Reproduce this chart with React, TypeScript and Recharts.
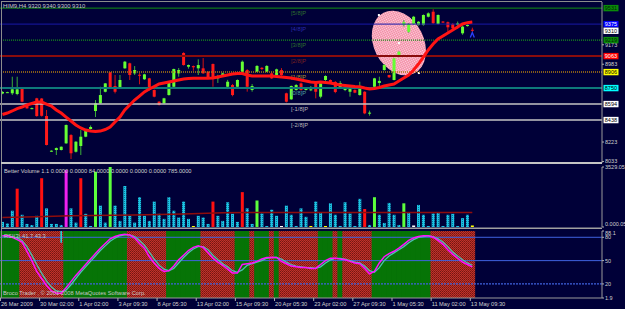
import React from 'react';
import { ComposedChart, Bar, Line, XAxis, YAxis, ReferenceLine, ReferenceDot, Cell } from 'recharts';

const W = 625;
const SLOTS = 123;
const FONT = '"Liberation Sans", Arial, sans-serif';
const BG = '#000038';

// HIM9 H4 candles (open / high / low / close)
const openP = [
  8697, 8708, 8699, 8692, 8748, 8591, 8548, 8650, 8648, 8477,
  8132, 8145, 8145, 8210, 8291, 8128, 8184, 8275, 8350, 8526,
  8601, 8714, 8904, 8770, 8748, 8943, 8992, 8894, 8880, 8836,
  8845, 8731, 8617, 8601, 8682, 8763, 8894, 9093, 8959, 8965,
  8943, 8943, 8910, 8985, 8845, 8868, 8763, 8780, 8763, 8910,
  8926, 8731, 8910, 8948, 8910, 8894, 8878, 8926, 8699, 8640,
  8731, 8796, 8731, 8728, 8796, 8666, 8829, 8829, 8810, 8760,
  8731, 8714, 8731, 8682, 8714, 8500, 8763, 8800, 8926, 8878,
  8829, 9056, 9366, 9300, 9376, 9366, 9366, 9447, 9496, 9376,
  9400, 9393, 9376, 9366, 9285, 9356, 9320,
];
const highP = [
  8720, 8714, 8861, 8861, 8755, 8596, 8560, 8655, 8652, 8536,
  8142, 8170, 8180, 8395, 8300, 8232, 8340, 8350, 8385, 8633,
  8763, 8800, 8908, 8878, 8878, 9015, 8998, 8965, 8900, 8890,
  8850, 8736, 8622, 8655, 8818, 8940, 8946, 9100, 8980, 8970,
  9031, 9043, 8915, 8990, 8880, 8900, 8830, 8790, 8835, 9020,
  8935, 8790, 8975, 8955, 8975, 8910, 8940, 8945, 8705, 8775,
  8790, 8805, 8755, 8770, 8800, 8805, 8875, 8835, 8818, 8820,
  8765, 8765, 8738, 8812, 8720, 8530, 8850, 8861, 8985, 8880,
  9045, 9110, 9415, 9385, 9455, 9405, 9470, 9490, 9520, 9470,
  9405, 9400, 9385, 9400, 9360, 9375, 9340,
];
const lowP = [
  8690, 8704, 8682, 8680, 8612, 8548, 8544, 8470, 8472, 8190,
  8128, 8096, 8140, 8205, 8057, 8120, 8096, 8270, 8345, 8467,
  8597, 8708, 8748, 8698, 8744, 8938, 8829, 8878, 8787, 8830,
  8726, 8660, 8580, 8596, 8676, 8758, 8861, 8970, 8940, 8920,
  8878, 8890, 8840, 8763, 8800, 8860, 8740, 8670, 8760, 8905,
  8715, 8715, 8905, 8925, 8905, 8840, 8870, 8870, 8610, 8635,
  8725, 8725, 8726, 8720, 8650, 8650, 8820, 8800, 8700, 8755,
  8720, 8666, 8700, 8676, 8495, 8480, 8755, 8748, 8920, 8850,
  8825, 9050, 9350, 9290, 9370, 9360, 9360, 9440, 9378, 9370,
  9385, 9300, 9320, 9330, 9270, 9350, 9300,
];
const closeP = [
  8712, 8710, 8738, 8738, 8617, 8552, 8554, 8477, 8479, 8194,
  8138, 8164, 8177, 8389, 8113, 8226, 8275, 8340, 8370, 8601,
  8682, 8796, 8754, 8714, 8829, 9008, 8878, 8926, 8874, 8884,
  8731, 8666, 8585, 8650, 8812, 8936, 8926, 8975, 8975, 8953,
  8975, 8894, 8845, 8845, 8861, 8894, 8812, 8682, 8829, 9008,
  8763, 8770, 8966, 8936, 8966, 8845, 8933, 8878, 8617, 8770,
  8780, 8731, 8748, 8738, 8714, 8796, 8868, 8810, 8712, 8800,
  8757, 8757, 8705, 8770, 8503, 8510, 8845, 8820, 8975, 8855,
  9040, 9105, 9395, 9376, 9447, 9398, 9464, 9480, 9383, 9464,
  9390, 9344, 9334, 9383, 9350, 9366, 9310,
];
// red moving average on price
const maP = [
  8492, 8506, 8526, 8550, 8565, 8585, 8599, 8614, 8614, 8594,
  8575, 8536, 8506, 8467, 8428, 8389, 8360, 8340, 8330, 8326,
  8330, 8345, 8370, 8418, 8467, 8536, 8585, 8633, 8672, 8712,
  8741, 8765, 8790, 8800, 8809, 8819, 8829, 8839, 8843, 8845,
  8845, 8845, 8845, 8848, 8858, 8868, 8878, 8887, 8892, 8892,
  8878, 8868, 8868, 8868, 8868, 8868, 8863, 8858, 8853, 8848,
  8839, 8829, 8819, 8809, 8804, 8809, 8804, 8800, 8790, 8780,
  8775, 8770, 8765, 8763, 8751, 8741, 8746, 8756, 8770, 8780,
  8790, 8819, 8848, 8878, 8926, 8985, 9053, 9122, 9181, 9229,
  9259, 9288, 9317, 9347, 9376, 9389, 9395,
];

// Better Volume 1.1
const volume = [
  300, 200, 957, 2254, 718, 180, 120, 658, 2870, 1094,
  180, 180, 120, 3349, 1094, 257, 2870, 777, 60, 3250,
  1256, 257, 3529, 1256, 359, 2410, 658, 257, 1752, 658,
  359, 1495, 777, 478, 1752, 957, 556, 1495, 478, 60,
  658, 556, 180, 1495, 658, 359, 1453, 777, 300, 2051,
  1094, 180, 1555, 795, 60, 1017, 658, 60, 1256, 718,
  60, 1094, 598, 60, 1495, 819, 60, 1393, 718, 60,
  1453, 795, 60, 1656, 1058, 120, 1752, 718, 239, 1417,
  718, 120, 1393, 855, 90, 1298, 718, 60, 795, 855,
  60, 718, 777, 60, 520, 718, 90,
];
const volKind = [
  'c', 'c', 'c', 'r', 'c', 'c', 'c', 'c', 'r', 'c',
  'c', 'c', 'c', 'm', 'c', 'c', 'r', 'c', 'c', 'g',
  'c', 'c', 'g', 'c', 'c', 'c', 'c', 'c', 'c', 'c',
  'c', 'c', 'c', 'c', 'c', 'c', 'c', 'c', 'c', 'y',
  'c', 'c', 'c', 'r', 'c', 'c', 'c', 'c', 'c', 'r',
  'c', 'c', 'g', 'c', 'c', 'c', 'c', 'w', 'c', 'c',
  'c', 'c', 'c', 'y', 'c', 'c', 'y', 'c', 'c', 'c',
  'c', 'c', 'c', 'c', 'r', 'c', 'g', 'c', 'c', 'c',
  'c', 'c', 'g', 'c', 'w', 'c', 'c', 'c', 'c', 'c',
  'c', 'c', 'c', 'c', 'c', 'c', 'y',
];
const volMaIdx = [0, 7, 14, 27, 37, 45, 50, 96];
const volMaVal = [560, 600, 660, 700, 760, 840, 855, 855];

// RSI(3) and its signal
const rsi = [
  82, 82, 80, 77, 74, 62, 50, 36, 27, 18,
  11, 8, 8, 15, 23, 31, 38, 45, 52, 59,
  66, 72, 78, 81, 83, 84, 83, 79, 72, 66,
  55, 47, 40, 36, 37, 43, 51, 57, 63, 67,
  69, 67, 60, 53, 48, 44, 39, 34, 34, 45,
  46, 47, 49, 52, 54, 54, 54, 49, 46, 43,
  42, 41, 41, 40, 40, 45, 50, 53, 53, 52,
  51, 49, 47, 46, 40, 33, 36, 47, 55, 59,
  62, 66, 71, 76, 79, 81, 82, 82, 80, 76,
  71, 64, 58, 53, 48, 45, 42,
];
const rsiSignal = [
  82, 82, 81, 79, 76, 68, 57, 45, 34, 24,
  16, 11, 10, 12, 19, 27, 35, 42, 49, 56,
  63, 69, 75, 79, 82, 83, 83, 81, 76, 70,
  61, 52, 44, 39, 37, 40, 47, 54, 60, 65,
  68, 68, 64, 57, 51, 46, 42, 37, 35, 38,
  44, 46, 48, 50, 53, 54, 54, 52, 48, 45,
  43, 42, 41, 41, 40, 42, 47, 51, 53, 53,
  52, 50, 48, 47, 43, 37, 35, 41, 50, 56,
  60, 64, 68, 73, 77, 80, 81, 82, 81, 78,
  74, 68, 61, 56, 51, 47, 44,
];
const rsiZone = [
  'g', 'g', 'g', 'g', 'r', 'r', 'r', 'r', 'r', 'r',
  'r', 'r', 'r', 'g', 'g', 'g', 'g', 'g', 'g', 'g',
  'g', 'g', 'g', 'g', 'g', 'g', 'r', 'r', 'r', 'r',
  'r', 'r', 'r', 'r', 'g', 'g', 'g', 'g', 'g', 'g',
  'g', 'r', 'r', 'r', 'r', 'r', 'r', 'r', 'g', 'g',
  'g', 'r', 'g', 'g', 'g', 'r', 'g', 'r', 'r', 'r',
  'r', 'r', 'r', 'r', 'r', 'g', 'g', 'g', 'r', 'g',
  'r', 'r', 'r', 'r', 'r', 'r', 'g', 'g', 'g', 'g',
  'g', 'g', 'g', 'g', 'g', 'g', 'g', 'g', 'r', 'r',
  'r', 'r', 'r', 'r', 'r', 'r', 'r',
];

// Murrey math levels
const murreyLevels = [9531.25, 9375, 9218.75, 9062.5, 8906.25, 8750, 8593.75, 8437.5];
const murreyNames = ['[5/8]P', '[4/8]P', '[3/8]P', '[2/8]P', '[1/8]P', '[0/8]P', '[-1/8]P', '[-2/8]P'];

// axis ticks and labels
const priceTicks = [8033, 8223, 8983, 9173];
const boxLevels = [9531.25, 9375, 9218.75, 9062.5, 8906.25, 8750, 8593.75, 8437.5, 9310];
const boxLabels = ['9531', '9375', '9219', '9063', '8906', '8750', '8594', '8438', '9310'];
const volTicks = [0, 3529.05];
const volTickLabels = ['0.000.05', '3529.05'];
const rsiTicks = [88.1, 80, 50, 20, 1.9];
const rsiTickLabels = ['88.1', '80', '50', '20', '1.9'];
const dateTickIdx = [0, 8, 16, 24, 32, 40, 48, 56, 64, 72, 80, 88, 96];
const dateLabels = [
  '26 Mar 2009', '30 Mar 02:00', '1 Apr 02:00', '3 Apr 09:30', '8 Apr 05:30', '13 Apr 02:00',
  '15 Apr 09:30', '20 Apr 05:30', '23 Apr 02:00', '27 Apr 09:30', '1 May 05:30', '11 May 02:00', '13 May 09:30',
];

const murreyStyle = [
  { stroke: '#129012', width: 1, dash: undefined, text: '#2e6e2e' },
  { stroke: '#1818a8', width: 1, dash: undefined, text: '#2a2aa8' },
  { stroke: '#189018', width: 1.2, dash: '1 1', text: '#2e6e2e' },
  { stroke: '#8a0c0c', width: 2, dash: undefined, text: '#7a2020' },
  { stroke: '#b07a10', width: 1.5, dash: '1 1', text: '#a89030' },
  { stroke: '#0e7a7a', width: 2, dash: undefined, text: '#50a0a0' },
  { stroke: '#c4c4c4', width: 1.6, dash: undefined, text: '#b8b8b8' },
  { stroke: '#c4c4c4', width: 1.6, dash: undefined, text: '#b8b8b8' },
];
const boxStyle = [
  { bg: '#0a8a0a', fg: '#002800' },
  { bg: '#0000ff', fg: '#ffffff' },
  { bg: '#0a8a0a', fg: '#002800' },
  { bg: '#ff0000', fg: '#ffffff' },
  { bg: '#ffff00', fg: '#000000' },
  { bg: '#00ffff', fg: '#000000' },
  { bg: '#ffffff', fg: '#000000' },
  { bg: '#ffffff', fg: '#000000' },
  { bg: '#ffffff', fg: '#000000' },
];
const volColor: Record<string, string> = {
  c: 'url(#cyanHatch)', r: '#ff1010', m: '#f020f0', g: '#5cff3c', y: '#ffff00', w: '#ffffff',
};

const rows = Array.from({ length: SLOTS }, (_, i) => {
  if (i >= openP.length) return { idx: i };
  const k = volMaIdx.indexOf(i);
  return {
    idx: i,
    o: openP[i], h: highP[i], l: lowP[i], c: closeP[i],
    hl: [lowP[i], highP[i]],
    ma: maP[i],
    vol: volume[i],
    kind: volKind[i],
    volMa: k >= 0 ? volMaVal[k] : null,
    rsi: rsi[i],
    sig: rsiSignal[i],
    band: [1.9, 88.1],
    zone: rsiZone[i],
  };
});

function Candle(p: any) {
  const { x, y, width, height, payload } = p;
  if (!payload || payload.o == null || height == null || isNaN(y)) return null;
  const top = Math.min(y, y + height);
  const hgt = Math.abs(height);
  const k = payload.h === payload.l ? 0 : hgt / (payload.h - payload.l);
  const yO = top + (payload.h - payload.o) * k;
  const yC = top + (payload.h - payload.c) * k;
  const up = payload.c >= payload.o;
  const cx = x + width / 2;
  return (
    <g>
      <line x1={cx} x2={cx} y1={top} y2={top + hgt} stroke={up ? '#3aae3a' : '#d01212'} strokeWidth={1} />
      <rect x={x} y={Math.min(yO, yC)} width={width} height={Math.max(1, Math.abs(yC - yO))} fill={up ? '#66ff33' : '#ff1a1a'} />
    </g>
  );
}

function Band(p: any) {
  const { x, y, width, height, payload } = p;
  if (!payload || !payload.zone) return null;
  return (
    <rect x={x - 0.3} y={Math.min(y, y + height)} width={width + 0.6} height={Math.abs(height)}
      fill={payload.zone === 'r' ? 'url(#redHatch)' : '#067406'} />
  );
}

function Blob(p: any) {
  const { cx, cy } = p;
  if (cx == null) return null;
  return (
    <g>
      <ellipse cx={cx} cy={cy} rx={25} ry={34} transform={`rotate(-27 ${cx} ${cy})`} fill="url(#pinkHatch)" />
      <rect x={cx - 21} y={cy - 29} width={2} height={2} fill="#fff" />
      <rect x={cx - 1} y={cy - 1} width={2} height={2} fill="#fff" />
      <rect x={cx + 19} y={cy + 29} width={2} height={2} fill="#fff" />
    </g>
  );
}

function Arrow(p: any) {
  const { cx, cy } = p;
  if (cx == null) return null;
  return <path d={`M${cx - 2},${cy + 2.5} L${cx},${cy - 2.5} L${cx + 2},${cy + 2.5}`} stroke="#2a40ff" strokeWidth={1.3} fill="none" />;
}

function MurreyLabel(p: any) {
  const { viewBox, text, color } = p;
  if (!viewBox) return null;
  return (
    <text x={viewBox.x + 291} y={viewBox.y + 6.5} fontSize={5.8} fontFamily={FONT} fill={color}>{text}</text>
  );
}

function PriceTick(p: any) {
  const { x, y, payload } = p;
  const b = boxLevels.indexOf(payload.value);
  if (b >= 0) {
    return (
      <g>
        <rect x={x + 1.5} y={y - 3.2} width={15} height={6.4} fill={boxStyle[b].bg} />
        <text x={x + 2.8} y={y + 2.1} fontSize={5.5} fontFamily={FONT} fill={boxStyle[b].fg}>{boxLabels[b]}</text>
      </g>
    );
  }
  return (
    <g>
      <line x1={x} x2={x + 2} y1={y} y2={y} stroke="#b0b0b0" />
      <text x={x + 3} y={y + 2} fontSize={5.5} fontFamily={FONT} fill="#d0d0d0">{payload.value}</text>
    </g>
  );
}

function makePlainTick(ticks: number[], labels: string[], lift: number) {
  return function PlainTick(p: any) {
    const { x, y, payload } = p;
    const i = ticks.indexOf(payload.value);
    const dy = i === 0 ? -lift : 0;
    return (
      <g>
        <line x1={x} x2={x + 2} y1={y} y2={y} stroke="#b0b0b0" />
        <text x={x + 3} y={y + 2 + dy} fontSize={5.5} fontFamily={FONT} fill="#d0d0d0">{i >= 0 ? labels[i] : ''}</text>
      </g>
    );
  };
}
const VolTick = makePlainTick(volTicks, volTickLabels, 3);
const RsiTick = makePlainTick(rsiTicks, rsiTickLabels, -1.5);

function DateTick(p: any) {
  const { x, y, payload } = p;
  const i = dateTickIdx.indexOf(payload.value);
  return (
    <g>
      <line x1={x - 2} x2={x - 2} y1={y} y2={y + 3} stroke="#b0b0b0" />
      <text x={x - 1.5} y={y + 8} fontSize={5.7} fontFamily={FONT} fill="#d0d0d0">{i >= 0 ? dateLabels[i] : ''}</text>
    </g>
  );
}

const panel = (top: number): React.CSSProperties => ({ position: 'absolute', left: 0, top });

export default function App() {
  return (
    <div style={{ position: 'absolute', left: 0, top: 0, width: W, height: 309, background: BG, overflow: 'hidden' }}>
      <svg width={0} height={0} style={{ position: 'absolute' }}>
        <defs>
          <pattern id="cyanHatch" width={2} height={2} patternUnits="userSpaceOnUse">
            <rect width={2} height={2} fill="#1cc4e6" />
            <rect width={1} height={1} fill="#0a7896" />
          </pattern>
          <pattern id="redHatch" width={2} height={2} patternUnits="userSpaceOnUse">
            <rect width={2} height={2} fill="#c2302a" />
            <rect width={1} height={1} fill="#701812" />
            <rect x={1} y={1} width={1} height={1} fill="#8a2018" />
          </pattern>
          <pattern id="pinkHatch" width={2} height={2} patternUnits="userSpaceOnUse">
            <rect width={2} height={2} fill="#f7a0b6" />
            <rect width={1} height={1} fill="#ffd6e0" />
            <rect x={1} y={1} width={1} height={1} fill="#ee88a2" />
          </pattern>
        </defs>
      </svg>

      {/* price panel */}
      <div style={panel(0)}>
        <ComposedChart width={W} height={165} data={rows} margin={{ top: 2, right: 0, bottom: 2, left: 0 }}>
          <XAxis dataKey="idx" hide />
          <YAxis orientation="right" type="number" domain={[8018, 9591]} allowDataOverflow width={23}
            ticks={[...priceTicks, ...boxLevels]} interval={0} tick={<PriceTick />} tickLine={false}
            tickSize={0} tickMargin={0} axisLine={{ stroke: '#9a9a9a' }} />
          <ReferenceDot x={81} y={9190} r={0} zIndex={150} shape={(p: any) => <Blob {...p} />} />
          {murreyLevels.map((v, i) => (
            <ReferenceLine key={v} y={v} stroke={murreyStyle[i].stroke} strokeWidth={murreyStyle[i].width}
              strokeDasharray={murreyStyle[i].dash}
              label={<MurreyLabel text={murreyNames[i]} color={murreyStyle[i].text} />} />
          ))}
          <Bar dataKey="hl" barSize={3} shape={(p: any) => <Candle {...p} />} isAnimationActive={false} />
          <Line dataKey="ma" stroke="#ff1414" strokeWidth={3} dot={false} isAnimationActive={false} />
          <ReferenceDot x={96} y={9268} r={0} shape={(p: any) => <Arrow {...p} />} />
        </ComposedChart>
      </div>

      {/* volume panel */}
      <div style={panel(163)}>
        <ComposedChart width={W} height={66} data={rows} margin={{ top: 4, right: 0, bottom: 2, left: 0 }}>
          <XAxis dataKey="idx" hide />
          <YAxis orientation="right" type="number" domain={[0, 3529.05]} allowDataOverflow width={23}
            ticks={volTicks} interval={0} tick={<VolTick />} tickLine={false} tickSize={0} tickMargin={0}
            axisLine={{ stroke: '#9a9a9a' }} />
          <Bar dataKey="vol" barSize={3} isAnimationActive={false}>
            {rows.map((r: any) => (
              <Cell key={r.idx} fill={r.kind ? volColor[r.kind] : 'none'} />
            ))}
          </Bar>
          <Line dataKey="volMa" connectNulls stroke="#8e0c0c" strokeWidth={1.5} dot={false} isAnimationActive={false} />
        </ComposedChart>
      </div>

      {/* RSI panel */}
      <div style={panel(229)}>
        <ComposedChart width={W} height={80} data={rows} margin={{ top: 2, right: 0, bottom: 0, left: 0 }} barCategoryGap={0}>
          <XAxis dataKey="idx" height={11} ticks={dateTickIdx} interval={0} tick={<DateTick />} tickLine={false}
            tickSize={0} tickMargin={0} axisLine={{ stroke: '#9a9a9a' }} />
          <YAxis orientation="right" type="number" domain={[1.9, 88.1]} allowDataOverflow width={23}
            ticks={rsiTicks} interval={0} tick={<RsiTick />} tickLine={false} tickSize={0} tickMargin={0}
            axisLine={{ stroke: '#9a9a9a' }} />
          <Bar dataKey="band" shape={(p: any) => <Band {...p} />} isAnimationActive={false} />
          <ReferenceLine y={80} stroke="#3f62e0" strokeWidth={1} />
          <ReferenceLine y={50} stroke="#3f62e0" strokeWidth={1} />
          <ReferenceLine y={20} stroke="#3f62e0" strokeWidth={1.2} strokeDasharray="2 1" />
          <ReferenceLine segment={[{ x: 12, y: 88.1 }, { x: 12, y: 73 }]} stroke="#18e0e0" strokeWidth={1.5} />
          <Line dataKey="sig" stroke="#4cc0b0" strokeWidth={1.3} dot={false} isAnimationActive={false} />
          <Line dataKey="rsi" stroke="#ff10ff" strokeWidth={1.5} dot={false} isAnimationActive={false} />
        </ComposedChart>
      </div>

      {/* frames and captions */}
      <svg width={W} height={309} style={{ position: 'absolute', left: 0, top: 0, pointerEvents: 'none' }}>
        <rect x={1} y={1} width={601} height={1} fill="#8c8c8c" />
        <rect x={1} y={1} width={1} height={297} fill="#8c8c8c" />
        <rect x={1} y={162} width={601} height={2} fill="#c4c4c4" />
        <rect x={1} y={227.5} width={601} height={1.5} fill="#a0a0a0" />
        <text x={3} y={8} fontSize={5.9} fontFamily={FONT} fill="#c8c8c8">HIM9,H4  9320 9340 9300 9310</text>
        <text x={4} y={173} fontSize={5.7} fontFamily={FONT} fill="#d0d0d0">Better Volume 1.1 0.0000 0.0000 84.0000 0.0000 0.0000 0.0000 785.0000</text>
        <text x={4} y={238} fontSize={5.7} fontFamily={FONT} fill="#c8c8c8">RSI(3) 41.7 43.3</text>
        <text x={3} y={295} fontSize={5.7} fontFamily={FONT} fill="#c8c8c8">Broco Trader , © 2001-2008 MetaQuotes Software Corp.</text>
      </svg>
    </div>
  );
}
